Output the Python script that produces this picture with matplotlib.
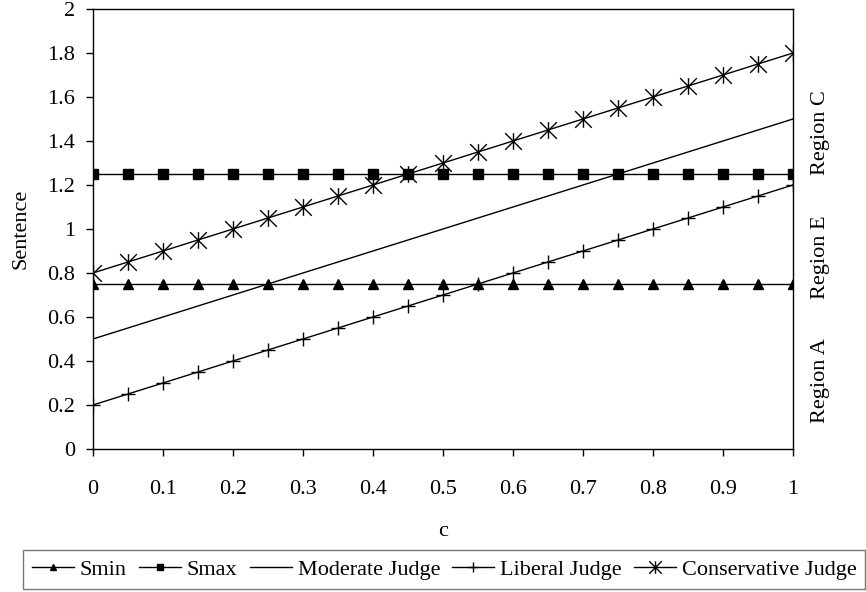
import numpy as np
import matplotlib.pyplot as plt
from matplotlib.path import Path

# data
c = [0, 0.05, 0.1, 0.15, 0.2, 0.25, 0.3, 0.35, 0.4, 0.45, 0.5,
     0.55, 0.6, 0.65, 0.7, 0.75, 0.8, 0.85, 0.9, 0.95, 1]
smin = [0.75] * 21
smax = [1.25] * 21
moderate = [0.5, 0.55, 0.6, 0.65, 0.7, 0.75, 0.8, 0.85, 0.9, 0.95, 1.0,
            1.05, 1.1, 1.15, 1.2, 1.25, 1.3, 1.35, 1.4, 1.45, 1.5]
liberal = [0.2, 0.25, 0.3, 0.35, 0.4, 0.45, 0.5, 0.55, 0.6, 0.65, 0.7,
           0.75, 0.8, 0.85, 0.9, 0.95, 1.0, 1.05, 1.1, 1.15, 1.2]
conservative = [0.8, 0.85, 0.9, 0.95, 1.0, 1.05, 1.1, 1.15, 1.2, 1.25, 1.3,
                1.35, 1.4, 1.45, 1.5, 1.55, 1.6, 1.65, 1.7, 1.75, 1.8]

regions = ['Region C', 'Region E', 'Region A']
region_y = [1.44, 0.87, 0.31]

plt.rcParams['font.family'] = ['Liberation Serif', 'DejaVu Serif']
plt.rcParams['font.size'] = 16

# excel style asterisk: an x with a vertical bar
star = Path([(0, -1), (0, 1), (-1, -1), (1, 1), (-1, 1), (1, -1)],
            [Path.MOVETO, Path.LINETO, Path.MOVETO, Path.LINETO,
             Path.MOVETO, Path.LINETO])

fig = plt.figure(figsize=(8.66, 5.92), dpi=100)
ax = fig.add_axes([0.1074, 0.2416, 0.8083, 0.7432])

lw = 1.0
ax.plot(c, smin, color='black', lw=lw, marker='^', ms=6.5, label='Smin')
ax.plot(c, smax, color='black', lw=lw, marker='s', ms=6.5, label='Smax')
ax.plot(c, moderate, color='black', lw=lw, label='Moderate Judge')
ax.plot(c, liberal, color='black', lw=lw, marker='+', ms=10, mew=1.0,
        label='Liberal Judge')
ax.plot(c, conservative, color='black', lw=lw, marker=star, ms=12, mew=1.0,
        label='Conservative Judge')

ax.set_xlim(0, 1)
ax.set_ylim(0, 2)
ax.set_xticks(np.arange(0, 1.01, 0.1))
ax.set_xticklabels(['0', '0.1', '0.2', '0.3', '0.4', '0.5', '0.6', '0.7',
                    '0.8', '0.9', '1'])
ax.set_yticks(np.arange(0, 2.01, 0.2))
ax.set_yticklabels(['0', '0.2', '0.4', '0.6', '0.8', '1', '1.2', '1.4',
                    '1.6', '1.8', '2'])
ax.tick_params(direction='out', length=5, width=1)
ax.tick_params(axis='x', pad=17)
ax.tick_params(axis='y', pad=8)
for s in ax.spines.values():
    s.set_linewidth(1.0)

ax.set_xlabel('c', labelpad=17)
ax.set_ylabel('Sentence', labelpad=12)

trans = ax.get_yaxis_transform()
for name, y in zip(regions, region_y):
    ax.text(1.039, y, name, rotation=90, ha='center', va='center',
            transform=trans)

fig.legend(loc='lower center', bbox_to_anchor=(0.513, 0.0), ncol=5,
           frameon=True, fancybox=False, edgecolor='#555555',
           handlelength=1.9, handletextpad=0.25, columnspacing=0.55,
           borderpad=0.4, borderaxespad=0.15, markerscale=0.75, fontsize=16)

fig.savefig('out.png', dpi=100)
